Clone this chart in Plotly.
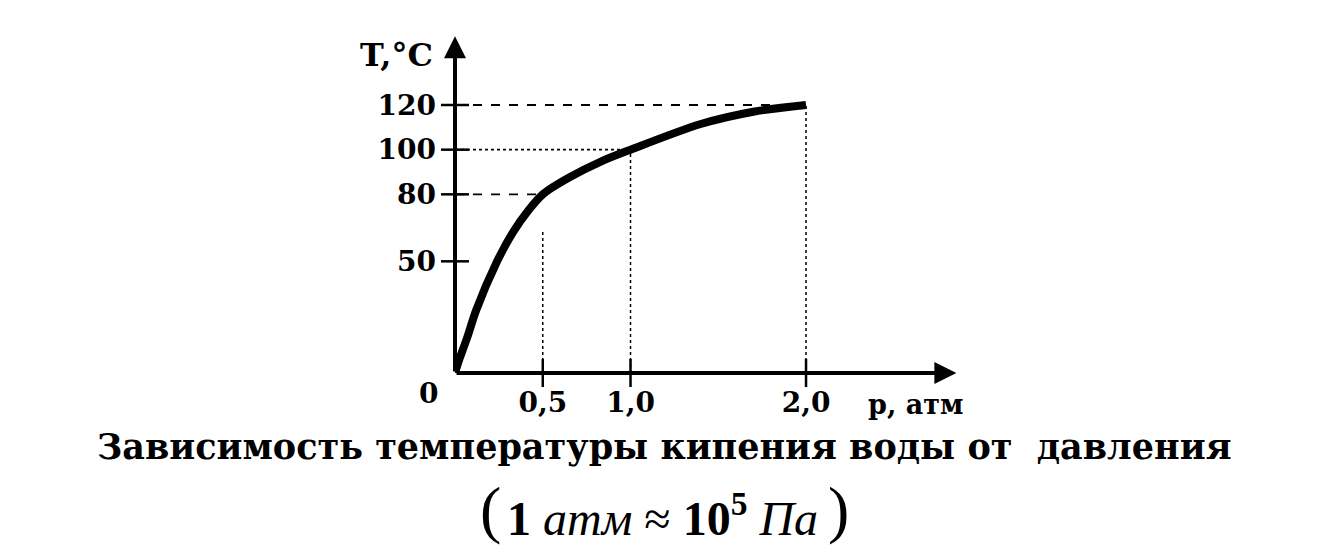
import plotly.graph_objects as go

# ---- data ----
pressure = [0, 0.02, 0.07, 0.12, 0.24, 0.33, 0.42, 0.5, 0.65, 0.84, 1.0, 1.4, 1.7, 2.0]
temperature = [0, 5, 16, 28, 50, 63, 73, 80, 87.5, 95, 100, 111.5, 117, 120]

x_tick_vals = [0.5, 1.0, 2.0]
x_tick_labels = ["0,5", "1,0", "2,0"]
y_tick_vals = [50, 80, 100, 120]
y_tick_labels = ["50", "80", "100", "120"]

guide_p = [0.5, 1.0, 2.0]
guide_T = [80, 100, 120]
guide_vertical_top = [64, 100, 120]
guide_h_dash = ["dash", "dot", "dash"]

X_MAX, Y_MAX = 2.9, 150

# ---- layout geometry (pixels) ----
W, H = 1317, 552
OFF = 8  # default page body margin
ML, MT = 447, 30
pw, ph = 509, 335
MR, MB = W - ML - pw, H - MT - ph


def paper_x(px):
    return (px - OFF - ML) / pw


def paper_y(py):
    return (MT + ph + OFF - py) / ph


fig = go.Figure()

fig.add_trace(go.Scatter(
    x=pressure, y=temperature, mode="lines",
    line=dict(color="black", width=8, shape="spline", smoothing=0.8),
    cliponaxis=False, hoverinfo="skip", showlegend=False,
))

# tick marks crossing the axes
fig.add_trace(go.Scatter(
    x=x_tick_vals, y=[0] * len(x_tick_vals), mode="markers",
    marker=dict(symbol="line-ns-open", size=20, color="black",
                line=dict(color="black", width=2.5)),
    cliponaxis=False, hoverinfo="skip", showlegend=False,
))
fig.add_trace(go.Scatter(
    x=[0] * len(y_tick_vals), y=y_tick_vals, mode="markers",
    marker=dict(symbol="line-ew-open", size=20, color="black",
                line=dict(color="black", width=2.5)),
    cliponaxis=False, hoverinfo="skip", showlegend=False,
))

shapes = []
# guide lines
for p, t, top, d in zip(guide_p, guide_T, guide_vertical_top, guide_h_dash):
    shapes.append(dict(type="line", xref="x", yref="y", x0=0, x1=p, y0=t, y1=t,
                       line=dict(color="black", width=1.8, dash=d)))
    shapes.append(dict(type="line", xref="x", yref="y", x0=p, x1=p, y0=0, y1=top,
                       line=dict(color="black", width=1.5, dash="dot")))

annotations = []
# axes with arrows
annotations.append(dict(x=X_MAX * 0.985, y=0, ax=0, ay=0, xref="x", yref="y",
                        axref="x", ayref="y", text="", showarrow=True,
                        arrowhead=2, arrowsize=1.1, arrowwidth=4, arrowcolor="black",
                        standoff=0, startstandoff=0))
annotations.append(dict(x=0, y=Y_MAX * 1.005, ax=0, ay=0, xref="x", yref="y",
                        axref="x", ayref="y", text="", showarrow=True,
                        arrowhead=2, arrowsize=1.1, arrowwidth=4, arrowcolor="black",
                        standoff=0, startstandoff=0))

serif_bold = dict(family="DejaVu Serif", size=28, color="black", weight="bold")


def text_at(px, py, txt, font, **kw):
    annotations.append(dict(x=paper_x(px), y=paper_y(py), xref="paper", yref="paper",
                            text=txt, showarrow=False, font=font, xanchor="center",
                            yanchor="middle", **kw))


text_at(396, 55, "T,°C", dict(family="DejaVu Serif", size=32, color="black", weight="bold"))
text_at(915, 404, "p, атм", dict(family="DejaVu Serif", size=27, color="black", weight="bold"))
text_at(428, 393, "0", serif_bold)

title_font = dict(family="DejaVu Serif", size=35, color="black", weight="bold")
text_at(664, 446, "Зависимость температуры кипения воды от &nbsp;давления", title_font)
text_at(662, 515, "<b>1</b> <i>атм</i> ≈ <b>10<sup>5</sup></b> <i>Па</i>",
        dict(family="Liberation Serif", size=48, color="black"))
text_at(490, 510, "(", dict(family="Liberation Serif", size=64, color="black"), borderpad=0)
text_at(838, 510, ")", dict(family="Liberation Serif", size=64, color="black"), borderpad=0)

fig.update_layout(
    width=W, height=H, autosize=False,
    margin=dict(l=ML, r=MR, t=MT, b=MB, pad=0),
    paper_bgcolor="white", plot_bgcolor="white",
    showlegend=False,
    shapes=shapes, annotations=annotations,
    xaxis=dict(range=[0, X_MAX], showgrid=False, zeroline=False, showline=False,
               tickmode="array", tickvals=x_tick_vals, ticktext=x_tick_labels,
               ticks="", tickfont=serif_bold, ticklabelstandoff=10, fixedrange=True),
    yaxis=dict(range=[0, Y_MAX], showgrid=False, zeroline=False, showline=False,
               tickmode="array", tickvals=y_tick_vals, ticktext=y_tick_labels,
               ticks="", tickfont=serif_bold, ticklabelstandoff=18, fixedrange=True),
)

fig.write_html("out.html")
